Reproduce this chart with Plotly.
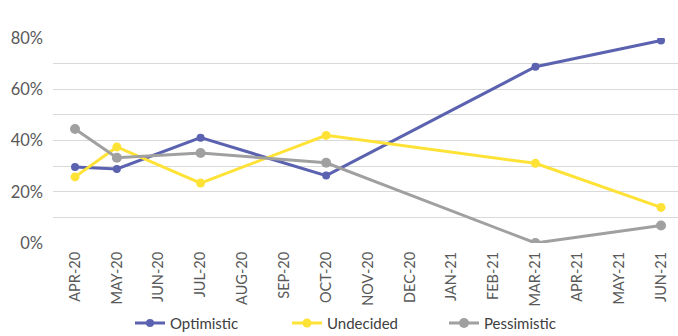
import plotly.graph_objects as go

months = ["APR-20", "MAY-20", "JUN-20", "JUL-20", "AUG-20", "SEP-20", "OCT-20", "NOV-20",
          "DEC-20", "JAN-21", "FEB-21", "MAR-21", "APR-21", "MAY-21", "JUN-21"]
optimistic = [29.7, 28.9, None, 41.1, None, None, 26.3, None, None, None, None, 68.8, None, None, 79.0]
undecided = [25.8, 37.5, None, 23.4, None, None, 42.0, None, None, None, None, 31.1, None, None, 13.9]
pessimistic = [44.5, 33.3, None, 35.1, None, None, 31.3, None, None, None, None, 0.0, None, None, 6.8]

series = [
    ("Optimistic", optimistic, "#5B62B0", 8),
    ("Undecided", undecided, "#FFE236", 9),
    ("Pessimistic", pessimistic, "#A0A0A0", 10),
]

fig = go.Figure()
for name, vals, color, ms in series:
    fig.add_trace(go.Scatter(
        x=months, y=[v / 100 if v is not None else None for v in vals],
        name=name, mode="lines+markers", connectgaps=True,
        line=dict(color=color, width=3), marker=dict(color=color, size=ms),
    ))

fig.update_layout(
    width=678, height=336,
    margin=dict(l=53, r=0, t=38, b=93),
    plot_bgcolor="white", paper_bgcolor="white",
    font=dict(family="Lato, Noto Sans, sans-serif", color="#595959"),
    showlegend=True,
    legend=dict(orientation="h", x=0.5, xanchor="center", y=0.038, yanchor="middle",
                yref="container",
                font=dict(size=15, color="#404040"), itemwidth=30,
                entrywidth=112, entrywidthmode="pixels"),
    xaxis=dict(type="category", tickangle=-90, tickfont=dict(size=14.5), automargin=False,
               showgrid=False, showline=False, ticks="", range=[-0.526, 14.406],
               ticklabelstandoff=5),
    yaxis=dict(range=[0, 0.8], tickformat=".0%", tickvals=[0, 0.2, 0.4, 0.6, 0.8],
               tickfont=dict(size=16.5), showgrid=True, gridcolor="#D9D9D9", gridwidth=1,
               zeroline=False, ticks="", automargin=False, ticklabelstandoff=9,
               minor=dict(dtick=0.1, showgrid=True, gridcolor="#D9D9D9")),
)

fig.write_html("out.html")
